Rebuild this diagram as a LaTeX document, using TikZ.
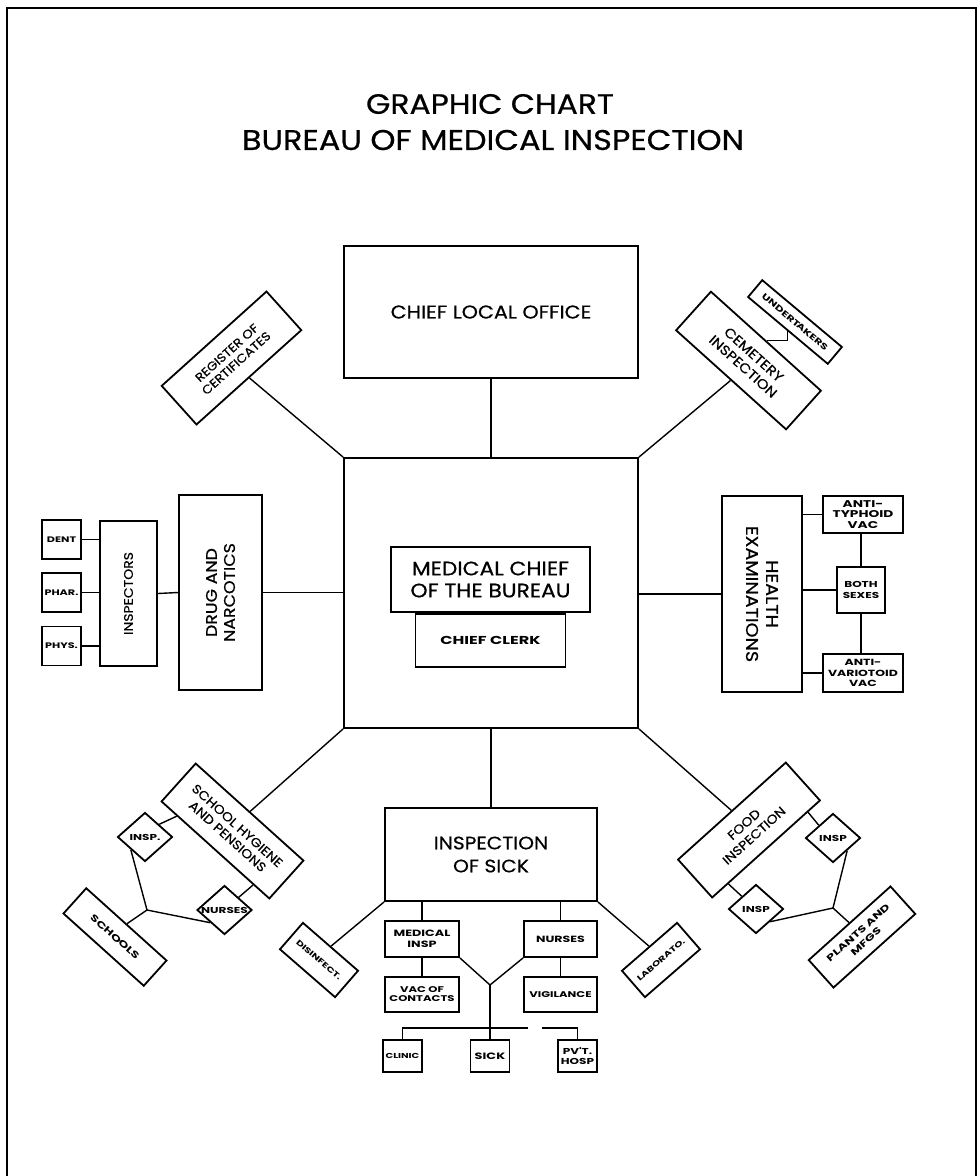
\documentclass[tikz,border=0pt]{standalone}
\usepackage{fontspec}
\setmainfont{Poppins}
\newfontfamily\chartfont{Poppins}[FakeStretch=1.12, FakeBold=0.6]
\newfontfamily\labelfont{Poppins}[FakeStretch=1.4]
\usetikzlibrary{positioning,calc,shapes.geometric}

\tikzset{
  unit/.style={draw, line width=1.8pt, inner sep=1pt, align=center},
  small/.style={unit, font=\labelfont\bfseries\fontsize{9.5}{10.5}\selectfont},
  dia/.style={draw, diamond, line width=1.8pt, inner sep=0pt, minimum width=55pt, minimum height=49pt},
  dtext/.style={font=\labelfont\bfseries\fontsize{8.6}{9}\selectfont, inner sep=0pt},
  link/.style={line width=1.4pt},
}

\begin{document}
\begin{tikzpicture}[x=1pt,y=-1pt]
\useasboundingbox (0,0) rectangle (980,1176);
\draw[line width=1.2pt] (7,1176) -- (7,8) -- (976,8) -- (976,1176);

% title
\node[font=\chartfont\fontsize{28}{30}\selectfont] (title1) at (490,104) {GRAPHIC CHART};
\node[font=\chartfont\fontsize{28.5}{30}\selectfont] (title2) at (493,140) {BUREAU OF MEDICAL INSPECTION};

% centre
\node[unit, minimum width=294pt, minimum height=132pt, font=\chartfont\fontsize{18.5}{20}\selectfont] (clo) at (491,312) {CHIEF LOCAL OFFICE};
\node[unit, minimum width=294pt, minimum height=270pt] (chief) at (491,593) {};
\node[unit, minimum width=199pt, minimum height=65pt, font=\chartfont\fontsize{19.5}{22}\selectfont] (med) at (490.5,579.5) {MEDICAL CHIEF\\OF THE BUREAU};
\node[small, minimum width=150pt, minimum height=53pt, font=\labelfont\bfseries\fontsize{11.5}{12}\selectfont, below=0pt of med] (clerk) {CHIEF CLERK};
\draw[link] (clo.south) -- (chief.north);

% upper corners
\node[unit, rotate=42, minimum width=141pt, minimum height=52pt, font=\chartfont\fontsize{12}{14}\selectfont] (reg) at (231.5,358) {REGISTER OF\\CERTIFICATES};
\node[unit, rotate=-42, minimum width=148pt, minimum height=52pt, font=\chartfont\fontsize{13.5}{16}\selectfont] (cem) at (748.5,360.5) {CEMETERY\\INSPECTION};
\node[small, rotate=-40, minimum width=104pt, minimum height=22pt, font=\labelfont\bfseries\fontsize{8.4}{9}\selectfont] (und) at (795,322) {UNDERT\kern-1.6pt AKERS};
\draw[link] (reg.south) -- (chief.north west);
\draw[link] (cem.south) -- (chief.north east);
\draw[link] (und.south) |- (cem.north);

% drug and narcotics
\node[unit, rotate=90, minimum width=195pt, minimum height=83pt, font=\chartfont\fontsize{15.5}{18}\selectfont] (drug) at (220.5,592.5) {DRUG AND\\NARCOTICS};
\node[unit, rotate=90, minimum width=145pt, minimum height=57pt, font=\chartfont\fontsize{12.5}{14}\selectfont] (insp) at (128.5,593.5) {INSPECTORS};
\foreach \n/\t/\yy in {dent/DENT/539.5, phar/PHAR./592.5, phys/PHYS./646}{
  \node[small, minimum size=39pt, font=\labelfont\bfseries\fontsize{8}{9}\selectfont] (\n) at (61.5,\yy) {\t};
  \draw[link] (\n.east) -- (\n.east -| insp.north);
}
\draw[link] (insp.south) -- (drug.north);
\draw[link] (drug.south) -- (chief.west |- drug.south);

% health examinations
\node[unit, rotate=-90, minimum width=196pt, minimum height=80pt, font=\chartfont\fontsize{17}{20}\selectfont] (health) at (762,594) {HEALTH\\EXAMINATIONS};
\node[small, minimum width=80pt, minimum height=37pt, font=\labelfont\bfseries\fontsize{9.8}{10.2}\selectfont] (typh) at (863,514.5) {ANTI-\\TYPHOID\\VAC};
\node[small, minimum width=48pt, minimum height=46pt, font=\labelfont\bfseries\fontsize{8.6}{10.5}\selectfont] (sexes) at (861,590) {BOTH\\SEXES};
\node[small, minimum width=80pt, minimum height=38pt, font=\labelfont\bfseries\fontsize{8.9}{10.2}\selectfont] (vario) at (863,673) {ANTI-\\VARIOTOID\\VAC};
\draw[link] (chief.east |- health.south) -- (health.south);
\foreach \n in {typh, sexes, vario}
  \draw[link] (\n.west -| health.north) -- (\n.west);
\draw[link] (sexes.north) -- (sexes.north |- typh.south);
\draw[link] (sexes.south) -- (sexes.south |- vario.north);

% school hygiene
\node[unit, rotate=-42, minimum width=145pt, minimum height=51pt, font=\chartfont\fontsize{12.5}{14.5}\selectfont] (hyg) at (232.5,831) {SCHOOL HYGIENE\\AND PENSIONS};
\node[dia, label={[dtext]center:INSP.}] (sinsp) at (145,837) {};
\node[dia, label={[dtext]center:NURSES}] (snurse) at (224.5,910) {};
\node[small, rotate=-42, minimum width=108pt, minimum height=34pt, font=\labelfont\bfseries\fontsize{9.3}{10}\selectfont] (schools) at (115,937) {SCHOOLS};
\coordinate (sj) at (147,910);
\draw[link] (hyg.north) -- (chief.south west);
\draw[link] ($(hyg.south west)!0.15!(hyg.south east)$) -- (sinsp.north east);
\draw[link] ($(hyg.south west)!0.85!(hyg.south east)$) -- (snurse.north east);
\draw[link] (sinsp.south west) -- (sj) -- (snurse.south west);
\draw[link] (sj) -- (schools.north);

% food inspection
\node[unit, rotate=42, minimum width=145pt, minimum height=51pt, font=\chartfont\fontsize{12.5}{15}\selectfont] (food) at (749,830) {FOOD\\INSPECTION};
\node[dia, label={[dtext]center:INSP}] (finsp1) at (833,838) {};
\node[dia, label={[dtext]center:INSP}] (finsp2) at (756,909) {};
\node[small, rotate=42, minimum width=110pt, minimum height=37pt, font=\labelfont\bfseries\fontsize{9.3}{11.5}\selectfont] (plants) at (862,937) {PLANTS AND\\MFGS};
\coordinate (fj) at (833,908);
\draw[link] (food.north) -- (chief.south east);
\draw[link] ($(food.south west)!0.88!(food.south east)$) -- (finsp1.north west);
\draw[link] ($(food.south west)!0.15!(food.south east)$) -- (finsp2.north west);
\draw[link] (finsp1.south east) -- (fj) -- (finsp2.south east);
\draw[link] (fj) -- (plants.north);

% inspection of sick
\node[unit, minimum width=212pt, minimum height=93pt, font=\chartfont\fontsize{18}{23}\selectfont] (isick) at (491,854.5) {INSPECTION\\OF SICK};
\draw[link] (chief.south) -- (isick.north);
\node[small, minimum width=74pt, minimum height=36pt, font=\labelfont\bfseries\fontsize{9.1}{10.5}\selectfont] (medins) at (422,939) {MEDICAL\\INSP};
\node[small, minimum width=73pt, minimum height=36pt, font=\labelfont\bfseries\fontsize{9}{10}\selectfont] (nurses) at (560.5,939) {NURSES};
\node[small, minimum width=74pt, minimum height=35pt, font=\labelfont\bfseries\fontsize{8.3}{9.5}\selectfont, below=18pt of medins] (vac) {VAC OF\\CONTACTS};
\node[small, minimum width=73pt, minimum height=35pt, font=\labelfont\bfseries\fontsize{8.3}{10}\selectfont, below=18pt of nurses] (vig) {VIGILANCE};
\node[small, rotate=-41, minimum width=73pt, minimum height=35pt, font=\labelfont\bfseries\fontsize{7.6}{8}\selectfont] (dis) at (319,960) {DISINFECT.};
\node[small, rotate=41, minimum width=73pt, minimum height=35pt, font=\labelfont\bfseries\fontsize{7.6}{8}\selectfont] (lab) at (661,960) {LABORATO.};
\draw[link] (isick.south west) -- (dis.north);
\draw[link] (isick.south east) -- (lab.north);
\draw[link] (medins.north) -- (medins.north |- isick.south);
\draw[link] (nurses.north) -- (nurses.north |- isick.south);
\draw[link] (vac.north) -- (medins.south);
\draw[link] (vig.north) -- (nurses.south);
\node[small, minimum width=39pt, minimum height=32pt, font=\labelfont\bfseries\fontsize{7.2}{8}\selectfont] (clinic) at (402.5,1056) {CLINIC};
\node[small, minimum width=39pt, minimum height=32pt, font=\labelfont\bfseries\fontsize{9.2}{10}\selectfont] (sick) at (490,1056) {SICK};
\node[small, minimum width=39pt, minimum height=32pt, font=\labelfont\bfseries\fontsize{8.6}{10}\selectfont] (pvt) at (577.5,1056) {PV'T.\\HOSP};
\coordinate (yj) at (490,985);
\coordinate (gapl) at (528,1028);
\coordinate (gapr) at (542,1028);
\draw[link] (medins.south east) -- (yj) -- (nurses.south west);
\draw[link] (yj) -- (sick.north);
\draw[link] (clinic.north) |- (gapl);
\draw[link] (gapr) -| (pvt.north);
\end{tikzpicture}
\end{document}
